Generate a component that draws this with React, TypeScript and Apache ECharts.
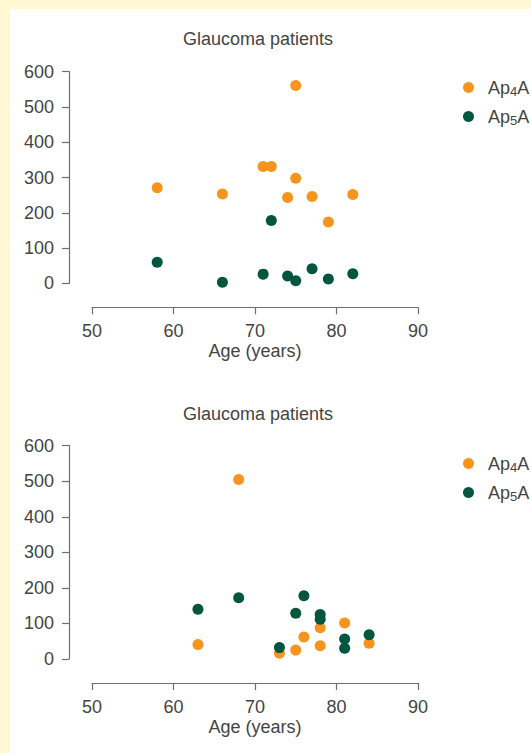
import React, { useEffect, useRef } from "react";
import * as echarts from "echarts";

const chartTitle = "Glaucoma patients";
const xAxisName = "Age (years)";
const seriesNames = ["Ap4A", "Ap5A"];
const xTicks = [50, 60, 70, 80, 90];
const yTicks = [0, 100, 200, 300, 400, 500, 600];

// Top panel
const topAp4Ages = [58, 66, 71, 72, 74, 75, 75, 77, 79, 82];
const topAp4Vals = [271, 253, 331, 331, 243, 561, 298, 246, 174, 252];
const topAp5Ages = [58, 66, 71, 72, 74, 75, 77, 79, 82];
const topAp5Vals = [60, 3, 26, 178, 21, 7, 41, 12, 27];

// Bottom panel
const botAp4Ages = [63, 68, 73, 75, 76, 78, 78, 81, 84];
const botAp4Vals = [41, 505, 16, 25, 62, 88, 37, 101, 44];
const botAp5Ages = [63, 68, 73, 75, 76, 78, 78, 81, 81, 84];
const botAp5Vals = [140, 172, 32, 129, 178, 125, 112, 56, 30, 68];

const ORANGE = "#F7941E";
const GREEN = "#00573D";
const TEXT = "#444444";
const AXIS = "#6e6e6e";
const FONT = "Liberation Sans";

const pairs = (xs: number[], ys: number[]) => xs.map((x, i) => [x, ys[i]]);

export default function App() {
  const ref = useRef<HTMLDivElement>(null);
  useEffect(() => {
    if (!ref.current) return;
    const chart = echarts.init(ref.current, null, { renderer: "svg" });
    const grids = [
      { left: 92, top: 71.7, width: 326, height: 211.6 },
      { left: 92, top: 445.7, width: 326, height: 213.3 },
    ];
    const mkX = (gi: number) => ({
      type: "value",
      gridIndex: gi,
      min: xTicks[0],
      max: xTicks[xTicks.length - 1],
      interval: 10,
      offset: 24,
      splitLine: { show: false },
      axisLine: { show: true, onZero: false, lineStyle: { color: AXIS, width: 1.2 } },
      axisTick: { show: true, length: 7, lineStyle: { color: AXIS, width: 1.2 } },
      axisLabel: { color: TEXT, fontSize: 18, fontFamily: FONT, margin: 15 },
      name: xAxisName,
      nameLocation: "middle",
      nameGap: 35,
      nameTextStyle: { color: TEXT, fontSize: 18, fontFamily: FONT },
    });
    const mkY = (gi: number) => ({
      type: "value",
      gridIndex: gi,
      min: yTicks[0],
      max: yTicks[yTicks.length - 1],
      interval: 100,
      offset: 23,
      splitLine: { show: false },
      axisLine: { show: true, onZero: false, lineStyle: { color: AXIS, width: 1.2 } },
      axisTick: { show: true, length: 7, lineStyle: { color: AXIS, width: 1.2 } },
      axisLabel: { color: TEXT, fontSize: 18, fontFamily: FONT, margin: 15 },
    });
    const mkLegend = (top: number) => ({
      orient: "vertical",
      left: 458,
      top,
      itemWidth: 29,
      itemHeight: 11,
      itemGap: 10,
      icon: "circle",
      data: seriesNames,
      textStyle: {
        color: TEXT,
        fontSize: 18,
        fontFamily: FONT,
        lineHeight: 18,
        rich: {
          sub: { fontSize: 13, fontFamily: FONT, color: TEXT, padding: [7, 0, 0, 0] },
          n: { fontSize: 18, fontFamily: FONT, color: TEXT },
        },
      },
      formatter: (name: string) => name.replace(/^(\D+)(\d)(\D*)$/, "{n|$1}{sub|$2}{n|$3}"),
    });
    const sym = 11;
    const titleStyle = { color: TEXT, fontSize: 18, fontWeight: "normal", fontFamily: FONT };
    chart.setOption({
      animation: false,
      backgroundColor: "#FFF8D3",
      graphic: [
        {
          type: "rect",
          z: -10,
          silent: true,
          shape: { x: 10, y: 9, width: 530, height: 760 },
          style: { fill: "#ffffff" },
        },
      ],
      title: [
        { text: chartTitle, left: 253, top: 25, textAlign: "center", textStyle: titleStyle },
        { text: chartTitle, left: 253, top: 400, textAlign: "center", textStyle: titleStyle },
      ],
      legend: [mkLegend(73.5), mkLegend(449.5)],
      grid: grids,
      xAxis: [mkX(0), mkX(1)],
      yAxis: [mkY(0), mkY(1)],
      color: [ORANGE, GREEN],
      series: [
        {
          name: seriesNames[0],
          type: "scatter",
          xAxisIndex: 0,
          yAxisIndex: 0,
          symbolSize: sym,
          itemStyle: { color: ORANGE, opacity: 1 },
          data: pairs(topAp4Ages, topAp4Vals),
        },
        {
          name: seriesNames[1],
          type: "scatter",
          xAxisIndex: 0,
          yAxisIndex: 0,
          symbolSize: sym,
          itemStyle: { color: GREEN, opacity: 1 },
          data: pairs(topAp5Ages, topAp5Vals),
        },
        {
          name: seriesNames[0],
          type: "scatter",
          xAxisIndex: 1,
          yAxisIndex: 1,
          symbolSize: sym,
          itemStyle: { color: ORANGE, opacity: 1 },
          data: pairs(botAp4Ages, botAp4Vals),
        },
        {
          name: seriesNames[1],
          type: "scatter",
          xAxisIndex: 1,
          yAxisIndex: 1,
          symbolSize: sym,
          itemStyle: { color: GREEN, opacity: 1 },
          data: pairs(botAp5Ages, botAp5Vals),
        },
      ],
    });
    return () => chart.dispose();
  }, []);
  return (
    <div
      ref={ref}
      style={{ position: "fixed", left: 0, top: 0, width: 531, height: 753 }}
    />
  );
}
